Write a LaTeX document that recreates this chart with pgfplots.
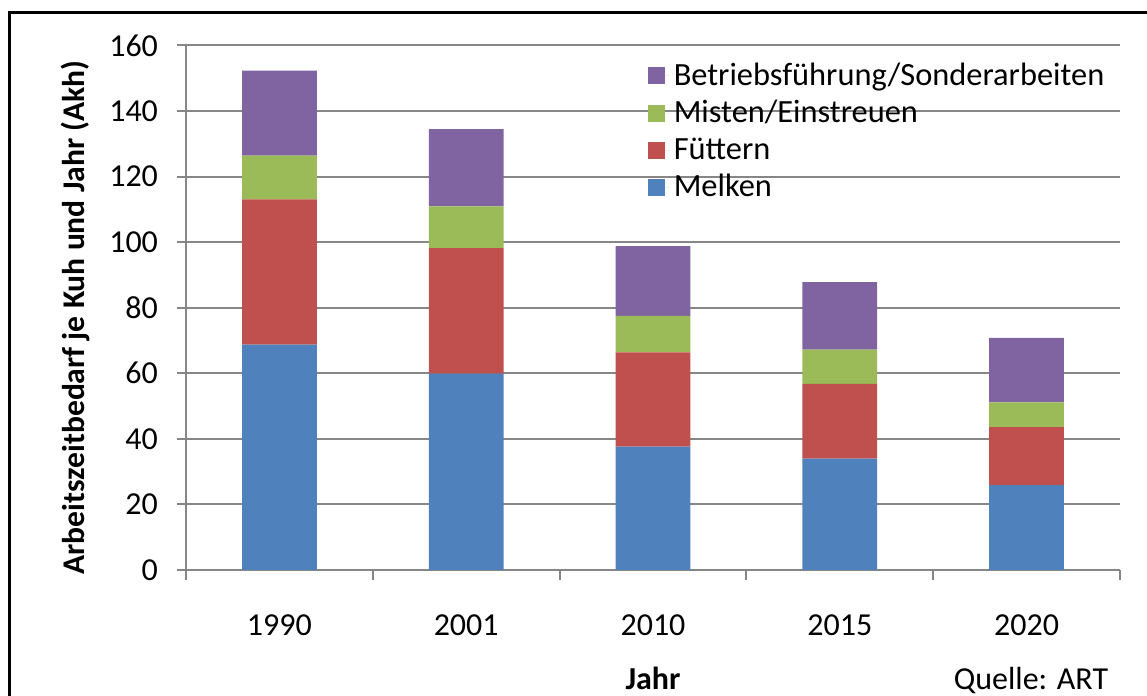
\documentclass[border=0pt]{standalone}
\usepackage{pgfplots}
\pgfplotsset{compat=1.18}
\usepackage{fontspec}
\setmainfont{Carlito}
\definecolor{cBlue}{HTML}{4F81BD}
\definecolor{cRed}{HTML}{C0504D}
\definecolor{cGreen}{HTML}{9BBB59}
\definecolor{cPurple}{HTML}{8064A2}
\definecolor{cGrid}{HTML}{868686}
\begin{document}
\begin{tikzpicture}[x=1pt,y=1pt]
\useasboundingbox (0,0) rectangle (573.5,348);
\draw[line width=1.5pt, black] (4.75,-20) -- (4.75,341.5) -- (620,341.5);
\begin{axis}[
  at={(93pt,63pt)}, anchor=south west,
  scale only axis, width=467pt, height=262.3pt,
  ybar stacked, bar width=0.4,
  xmin=-0.5, xmax=4.5, ymin=0, ymax=160,
  axis lines*=left,
  axis line style={cGrid, line width=1pt},
  ytick={0,20,...,160},
  ymajorgrids, grid style={cGrid, line width=1pt},
  xtick={0,1,2,3,4},
  xticklabels={1990,2001,2010,2015,2020},
  major x tick style={draw=none},
  minor xtick={-0.5,0.5,1.5,2.5,3.5,4.5},
  minor x tick style={cGrid, line width=1pt},
  minor tick length=5pt,
  major tick length=4.5pt,
  y tick style={cGrid, line width=1pt},
  tick align=outside,
  tick label style={font=\fontsize{16}{18}\selectfont},
  /pgf/number format/assume math mode=true,
  xticklabel style={yshift=-14.5pt},
  yticklabel style={xshift=-6pt},
  ylabel={\bfseries Arbeitszeitbedarf je Kuh und Jahr (Akh)},
  ylabel style={at={(axis description cs:0,0.5)}, anchor=center, yshift=55.5pt, xshift=-5pt, font=\fontsize{15.8}{18}\selectfont},
  legend cell align=left,
  reverse legend,
  legend style={draw=none, fill=none, at={(axis cs:1.97,156)}, anchor=north west,
    font=\fontsize{16.2}{18}\selectfont, row sep=2pt, inner sep=0pt},
  legend image code/.code={\path (0pt,0pt) -- (11pt,0pt); \fill[#1] (0pt,-4.25pt) rectangle (8.5pt,4.25pt);},
]
\addplot[fill=cBlue, draw=none] coordinates {(0,68.7) (1,59.9) (2,37.6) (3,34.0) (4,25.9)};
\addplot[fill=cRed, draw=none] coordinates {(0,44.3) (1,38.3) (2,28.8) (3,22.8) (4,17.7)};
\addplot[fill=cGreen, draw=none] coordinates {(0,13.4) (1,12.7) (2,11.1) (3,10.4) (4,7.5)};
\addplot[fill=cPurple, draw=none] coordinates {(0,25.9) (1,23.6) (2,21.3) (3,20.6) (4,19.7)};
\legend{Melken, Füttern, Misten/Einstreuen, Betriebsführung/Sonderarbeiten}
\end{axis}
\node[font=\fontsize{16}{18}\selectfont\bfseries, anchor=base] at (326.5,3) {Jahr};
\node[font=\fontsize{16}{18}\selectfont, anchor=base] at (515.5,3) {Quelle: ART};
\end{tikzpicture}
\end{document}
